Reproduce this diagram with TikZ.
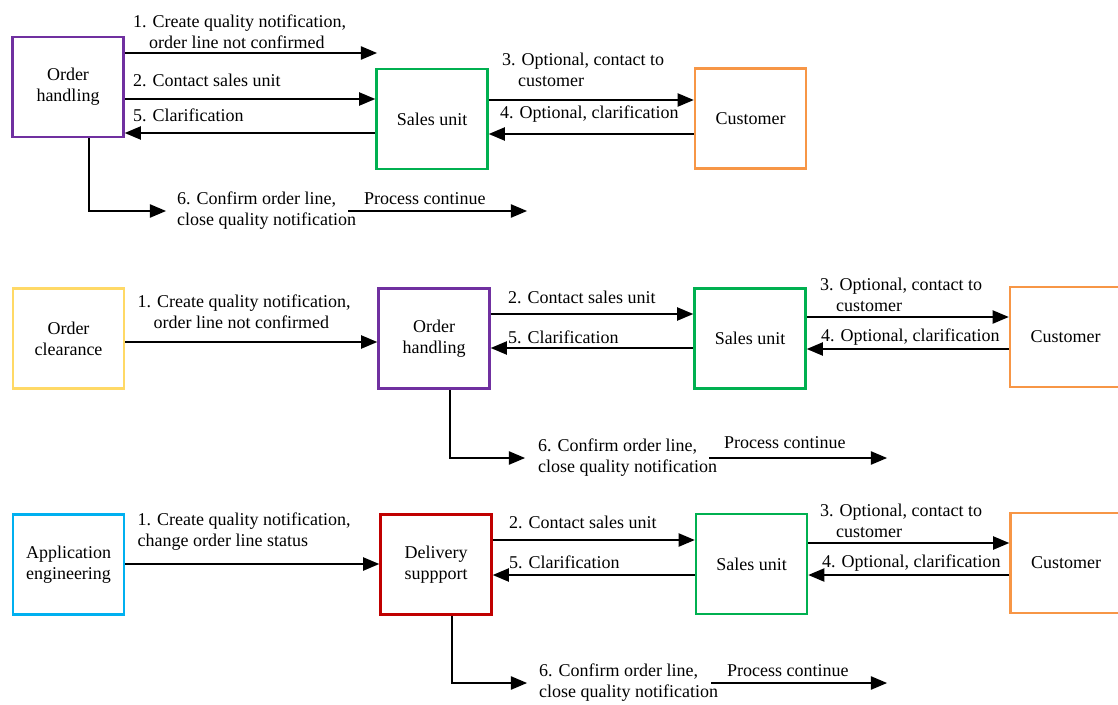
\documentclass[tikz,border=0pt]{standalone}
\usepackage{fontspec}
\setmainfont{Liberation Serif}
\usetikzlibrary{arrows}
\usetikzlibrary{positioning}

\definecolor{ohpurple}{HTML}{7030A0}
\definecolor{sugreen}{HTML}{00B050}
\definecolor{cuorange}{HTML}{F79646}
\definecolor{ocyellow}{HTML}{FFD966}
\definecolor{aecyan}{HTML}{00B0F0}
\definecolor{dsred}{HTML}{C00000}
\newcommand{\ind}{\hspace*{16pt}}

\tikzset{
  unitbox/.style={draw,line width=2.6pt,minimum width=111pt,minimum height=100pt,align=center,inner sep=0pt},
  flow/.style={->,line width=2.8pt},
  lbl/.style={inner sep=0pt,align=left}
}

\begin{document}
\begin{tikzpicture}[>=triangle 45,x=1pt,y=-1pt,font=\fontsize{18}{21}\selectfont]
\useasboundingbox (0,0) rectangle (1118,704);
\clip (0,0) rectangle (1118,704);
% first row
\node[unitbox,draw=ohpurple] (oh1) at (68,87) {Order\\handling};
\node[unitbox,draw=sugreen] (su1) at (432,119) {Sales unit};
\node[unitbox,draw=cuorange] (cu1) at (750.5,118.5) {Customer};
\coordinate (n1end) at (377,53);
\draw[flow] (oh1.east |- 0,53) -- (n1end);
\draw[flow] (oh1.east |- 0,99) -- (su1.west |- 0,99);
\draw[flow] (su1.west |- 0,133) -- (oh1.east |- 0,133);
\draw[flow] (su1.east |- 0,100) -- (cu1.west |- 0,100);
\draw[flow] (cu1.west |- 0,134) -- (su1.east |- 0,134);
\node[lbl,anchor=west] (l1a) at (133,32) {1. Create quality notification,\\\ind order line not confirmed};
\node[lbl,anchor=west] (l2a) at (133,80) {2. Contact sales unit};
\node[lbl,anchor=west] (l5a) at (133,115) {5. Clarification};
\node[lbl,anchor=west] (l3a) at (502,69.5) {3. Optional, contact to\\\ind customer};
\node[lbl,anchor=west] (l4a) at (500,114) {4. Optional, clarification};
\node[lbl,anchor=west] (t6a) at (177,211) {6. Confirm order line,\\close quality notification};
\draw[flow,shorten >=11pt] (oh1.south -| 89,0) |- (t6a.west);
\coordinate (pc1a) at (348,211);
\coordinate (pc1b) at (527,211);
\draw[flow] (pc1a) -- (pc1b);
\node[lbl,anchor=west] (pl1) at (364,199) {Process continue};
% second row
\node[unitbox,draw=ocyellow] (oc) at (68.5,338.5) {Order\\clearance};
\node[unitbox,draw=ohpurple] (oh2) at (434,338.5) {Order\\handling};
\node[unitbox,draw=sugreen] (su2) at (750,338.5) {Sales unit};
\node[unitbox,draw=cuorange] (cu2) at (1065.5,337) {Customer};
\draw[flow] (oc.east |- 0,342) -- (oh2.west |- 0,342);
\draw[flow] (oh2.east |- 0,314) -- (su2.west |- 0,314);
\draw[flow] (su2.west |- 0,348) -- (oh2.east |- 0,348);
\draw[flow] (su2.east |- 0,317) -- (cu2.west |- 0,317);
\draw[flow] (cu2.west |- 0,349) -- (su2.east |- 0,349);
\node[lbl,anchor=west] (l1b) at (137.5,312) {1. Create quality notification,\\\ind order line not confirmed};
\node[lbl,anchor=west] (l2b) at (508,297) {2. Contact sales unit};
\node[lbl,anchor=west] (l5b) at (508,337) {5. Clarification};
\node[lbl,anchor=west] (l3b) at (820,295) {3. Optional, contact to\\\ind customer};
\node[lbl,anchor=west] (l4b) at (821,337) {4. Optional, clarification};
\node[lbl,anchor=west] (t6b) at (538,458) {6. Confirm order line,\\close quality notification};
\draw[flow,shorten >=13pt] (oh2.south -| 450,0) |- (t6b.west);
\coordinate (pc2a) at (709,458);
\coordinate (pc2b) at (887,458);
\draw[flow] (pc2a) -- (pc2b);
\node[lbl,anchor=west] (pl2) at (724,443) {Process continue};
% third row
\node[unitbox,draw=aecyan] (ae) at (68.5,564.5) {Application\\engineering};
\node[unitbox,draw=dsred] (ds) at (436,564.5) {Delivery\\suppport};
\node[unitbox,draw=sugreen] (su3) at (751.5,564) {Sales unit};
\node[unitbox,draw=cuorange] (cu3) at (1066,563) {Customer};
\draw[flow] (ae.east |- 0,564) -- (ds.west |- 0,564);
\draw[flow] (ds.east |- 0,540) -- (su3.west |- 0,540);
\draw[flow] (su3.west |- 0,575) -- (ds.east |- 0,575);
\draw[flow] (su3.east |- 0,543) -- (cu3.west |- 0,543);
\draw[flow] (cu3.west |- 0,575) -- (su3.east |- 0,575);
\node[lbl,anchor=west] (l1c) at (137.5,532) {1. Create quality notification,\\change order line status};
\node[lbl,anchor=west] (l2c) at (509,522) {2. Contact sales unit};
\node[lbl,anchor=west] (l5c) at (509,562) {5. Clarification};
\node[lbl,anchor=west] (l3c) at (820,521) {3. Optional, contact to\\\ind customer};
\node[lbl,anchor=west] (l4c) at (822,563) {4. Optional, clarification};
\node[lbl,anchor=west] (t6c) at (539,683) {6. Confirm order line,\\close quality notification};
\draw[flow,shorten >=12pt] (ds.south -| 452,0) |- (t6c.west);
\coordinate (pc3a) at (711,683);
\coordinate (pc3b) at (887,683);
\draw[flow] (pc3a) -- (pc3b);
\node[lbl,anchor=west] (pl3) at (727,671) {Process continue};
\end{tikzpicture}
\end{document}
